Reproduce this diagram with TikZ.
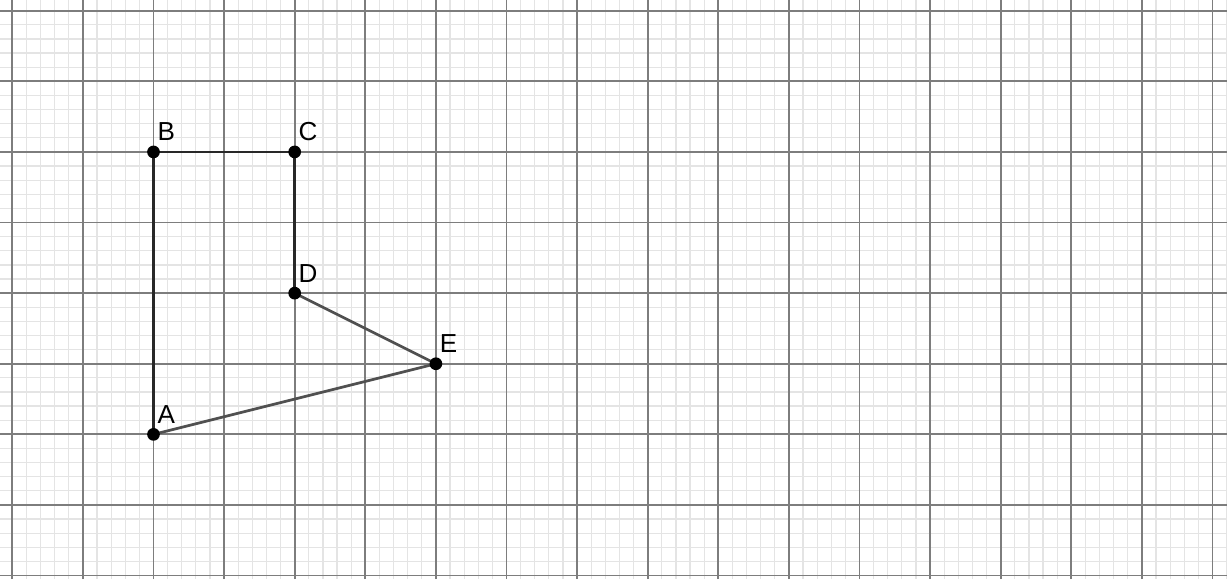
\documentclass[tikz,border=0pt]{standalone}
\usepackage{fontspec}
\setmainfont{Liberation Sans}
\usetikzlibrary{calc}
\definecolor{minorgrid}{RGB}{228,228,228}
\definecolor{majorgrid}{RGB}{125,125,125}
\definecolor{sideA}{RGB}{40,40,40}
\definecolor{sideB}{RGB}{80,80,80}
\tikzset{
  pt/.style={fill=black},
  lbl/.style={anchor=south west, inner sep=0pt, font=\fontsize{10.5}{12}\selectfont}
}

\begin{document}
\begin{tikzpicture}
\useasboundingbox (-0.174,-0.05) rectangle (17.205,8.152);
% Grid paper
\foreach \i in {0,...,86} {
  \draw[minorgrid, line width=0.5pt] (\i*0.2,-0.05) -- (\i*0.2,8.152);
}
\foreach \j in {0,...,40} {
  \draw[minorgrid, line width=0.5pt] (-0.174,\j*0.2) -- (17.205,\j*0.2);
}
\foreach \i in {0,...,17} {
  \draw[majorgrid, line width=0.7pt] (\i,-0.05) -- (\i,8.152);
}
\foreach \j in {0,...,8} {
  \draw[majorgrid, line width=0.7pt] (-0.174,\j) -- (17.205,\j);
}
\coordinate (a) at (2,2);   % Points of the polygon
\coordinate (b) at (2,6);
\coordinate (c) at (4,6);
\coordinate (d) at (4,4);
\coordinate (e) at (6,3);
% Draw the sides
\draw[sideA, line width=1.1pt] (a) -- (b) -- (c) -- (d);
\draw[sideB, line width=1.1pt] (d) -- (e) -- (a);
% Points and their names
\foreach \p/\n in {a/A, b/B, c/C, d/D, e/E} {
  \fill[pt] (\p) circle (0.09);
  \node[lbl] (l\p) at ($(\p)+(0.05,0.15)$) {\n};
}
\end{tikzpicture}
\end{document}
